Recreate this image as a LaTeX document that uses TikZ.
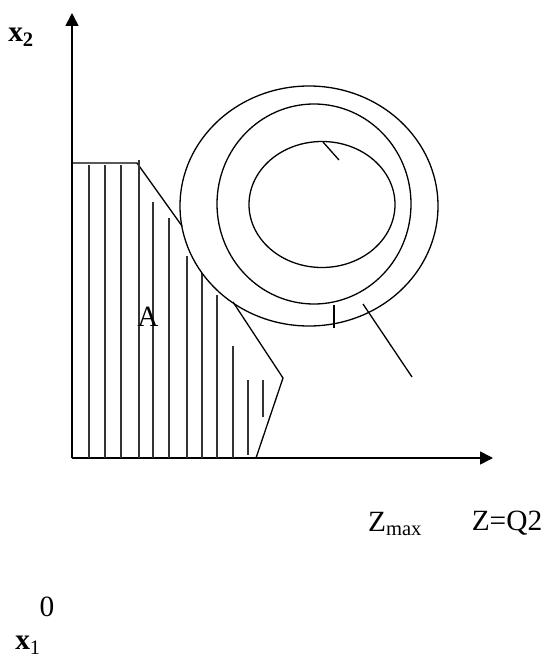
\documentclass[tikz,border=0pt]{standalone}
\usepackage{fontspec}
\setmainfont{Liberation Serif}
\usepackage{tikz}
\usetikzlibrary{arrows.meta, positioning}

\begin{document}
\begin{tikzpicture}[
    x=1bp, y=-1bp,
    axis/.style={line width=1.6bp, -{Triangle[length=13bp, width=13bp]}},
    edge/.style={line width=1.3bp},
    hatch/.style={line width=1.3bp, color=black!80},
    level/.style={line width=1.3bp},
    lbl/.style={font=\fontsize{29.5}{32}\selectfont, inner sep=0pt}
]
\useasboundingbox (0,0) rectangle (547,662);

% axes
\coordinate (O) at (72,458);
\coordinate (ytip) at (72,13);
\coordinate (xtip) at (493,458);
\draw[axis] (O) -- (ytip);
\draw[axis] (O) -- (xtip);

% region A
\coordinate (topl) at (72,163);
\coordinate (topr) at (137,163);
\coordinate (cut1) at (182,226);
\coordinate (cut2) at (233,302);
\coordinate (tip) at (283,378);
\coordinate (foot) at (256,458);
\draw[edge] (topl) -- (topr) -- (cut1);
\draw[edge] (cut2) -- (tip) -- (foot);
\foreach \x/\t/\b in {89/165/458, 105/165/458, 121/165/458, 139/160/458,
    153/202/458, 169/218/458, 187/256/458, 202/273/458, 217/295/458,
    233/346/458, 248/380/455, 263/380/417}
  \draw[hatch] (\x,\t) -- (\x,\b);

% level curves of Z
\draw[level] (309,206) ellipse [x radius=129, y radius=120];
\draw[level] (314,204) ellipse [x radius=97, y radius=100];
\draw[level] (322,204.5) ellipse [x radius=73, y radius=63];
\draw[level] (323,142) -- (339,160);
\draw[level] (334,305) -- (334,328);
\draw[level] (363,304) -- (412,377);

% labels
\node[lbl] (xtwo) at (21,37) {\textbf{x\textsubscript{2}}};
\node[lbl] (regA) at (148,317) {A};
\node[lbl] (zmax) at (395,524) {Z\textsubscript{max}};
\node[lbl] (zq) at (507,523) {Z=Q2};
\node[lbl] (zero) at (47,607) {0};
\node[lbl] (xone) at (28,645) {\textbf{x}\textsubscript{1}};
\end{tikzpicture}
\end{document}
